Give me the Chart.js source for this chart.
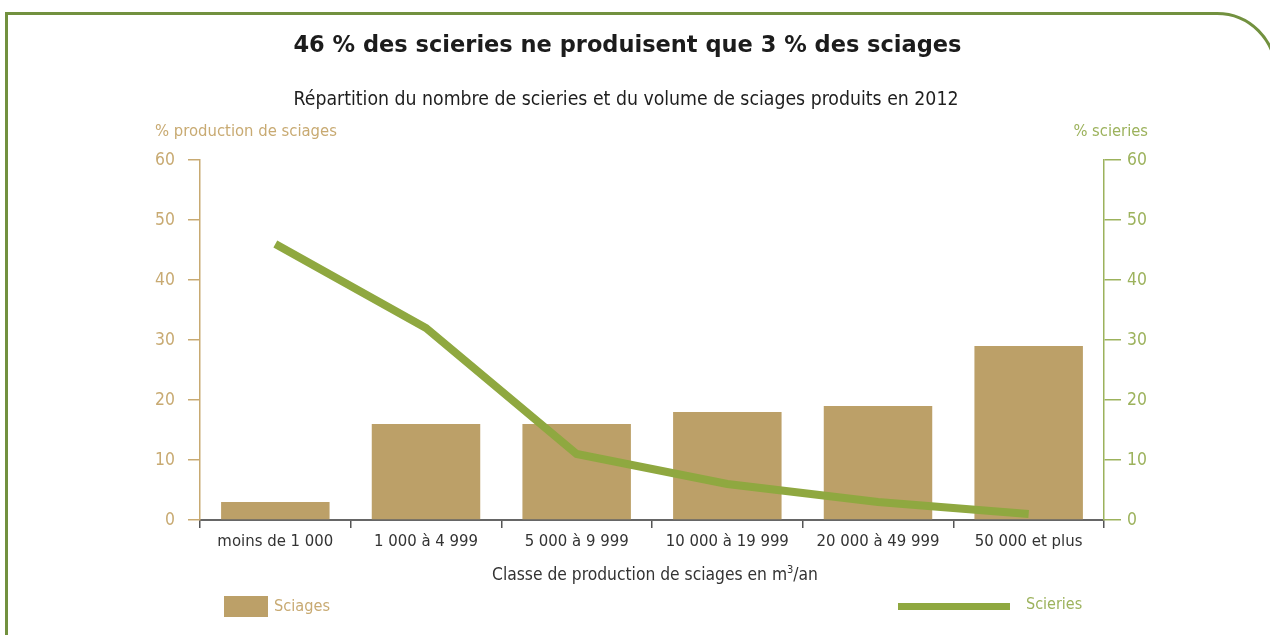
<!DOCTYPE html>
<html>
<head>
<meta charset="utf-8">
<script src="https://cdn.jsdelivr.net/npm/chart.js@4"></script>
<style>
  html, body { margin:0; padding:0; background:#fff; }
  body { width:1270px; height:635px; position:relative; overflow:hidden; }
  #frame { position:absolute; left:5px; top:12px; width:1266px; height:700px; border:3px solid #72913f; border-top-right-radius:60px; }
  #c { position:absolute; left:0; top:0; }
  .t { position:absolute; white-space:nowrap; font-family:"DejaVu Sans Condensed",sans-serif; }
  #title { left:0; width:1255px; text-align:center; top:31px; font-family:"DejaVu Sans",sans-serif; font-weight:bold; font-size:22.5px; color:#1c1c1c; }
  #subtitle { left:0; width:1252px; text-align:center; top:87px; font-size:19.3px; color:#1e1e1e; }
  #ltitle { left:155px; top:121px; font-size:16.5px; color:#c8aa72; }
  #rtitle { right:122px; top:121px; font-size:16.4px; color:#9cb25c; }
  #xtitle { left:0; width:1310px; text-align:center; top:564px; font-size:17.3px; color:#333; }
  #xtitle sup { font-size:11px; vertical-align:7px; line-height:0; }
  #leg1sw { position:absolute; left:224px; top:596px; width:44px; height:21px; background:#bca068; }
  #leg1 { left:274px; top:596px; font-size:16.2px; color:#c8aa72; }
  #leg2sw { position:absolute; left:898px; top:603px; width:112px; height:7px; background:#8fa840; }
  #leg2 { left:1026px; top:594px; font-size:16px; color:#9cb25c; }
</style>
</head>
<body>
<div id="frame"></div>
<canvas id="c" width="1270" height="635"></canvas>
<div class="t" id="title">46 % des scieries ne produisent que 3 % des sciages</div>
<div class="t" id="subtitle">Répartition du nombre de scieries et du volume de sciages produits en 2012</div>
<div class="t" id="ltitle">% production de sciages</div>
<div class="t" id="rtitle">% scieries</div>
<div class="t" id="xtitle">Classe de production de sciages en m<sup>3</sup>/an</div>
<div id="leg1sw"></div><div class="t" id="leg1">Sciages</div>
<div id="leg2sw"></div><div class="t" id="leg2">Scieries</div>
<script>
const categories = ["moins de 1 000", "1 000 à 4 999", "5 000 à 9 999", "10 000 à 19 999", "20 000 à 49 999", "50 000 et plus"];
const sciages = [3, 16, 16, 18, 19, 29];
const scieries = [46, 32, 11, 6, 3, 1];
const yTicks = [0, 10, 20, 30, 40, 50, 60];

const TAN = "#c8aa72", GREEN = "#9cb25c";
const FONT = "'DejaVu Sans Condensed',sans-serif";

new Chart(document.getElementById("c"), {
  data: {
    labels: categories,
    datasets: [
      { type: "line", label: "Scieries", data: scieries, yAxisID: "yR", borderColor: "#8fa840", borderWidth: 8, pointRadius: 0, tension: 0, order: 0, borderCapStyle: "butt" },
      { type: "bar", label: "Sciages", data: sciages, yAxisID: "yL", backgroundColor: "#bca068", barPercentage: 0.72, categoryPercentage: 1, order: 1 }
    ]
  },
  options: {
    responsive: false,
    animation: false,
    events: [],
    layout: { padding: { top: 160, left: 0, right: 106, bottom: 75 } },
    plugins: { legend: { display: false }, title: { display: false }, tooltip: { enabled: false } },
    scales: {
      x: {
        offset: true,
        grid: { display: true, drawOnChartArea: false, tickLength: 8, color: "#555", lineWidth: 1.5 },
        border: { display: true, color: "#666", width: 2 },
        ticks: { color: "#333", font: { family: FONT, size: 16.6 }, padding: 4, maxRotation: 0, autoSkip: false },
        afterFit: s => { s.height = 40; }
      },
      yL: {
        position: "left", min: 0, max: 60,
        afterBuildTicks: s => { s.ticks = yTicks.map(v => ({ value: v })); },
        grid: { drawOnChartArea: false, tickLength: 12, color: TAN, lineWidth: 1.5 },
        border: { color: TAN, width: 1.5 },
        ticks: { color: TAN, font: { family: FONT, size: 17.4 }, padding: 13 },
        afterFit: s => { s.width = 200; }
      },
      yR: {
        position: "right", min: 0, max: 60,
        afterBuildTicks: s => { s.ticks = yTicks.map(v => ({ value: v })); },
        grid: { drawOnChartArea: false, tickLength: 17, color: GREEN, lineWidth: 1.5 },
        border: { color: GREEN, width: 1.5 },
        ticks: { color: GREEN, font: { family: FONT, size: 17.4 }, padding: 6 },
        afterFit: s => { s.width = 60; }
      }
    }
  }
});
</script>
</body>
</html>
